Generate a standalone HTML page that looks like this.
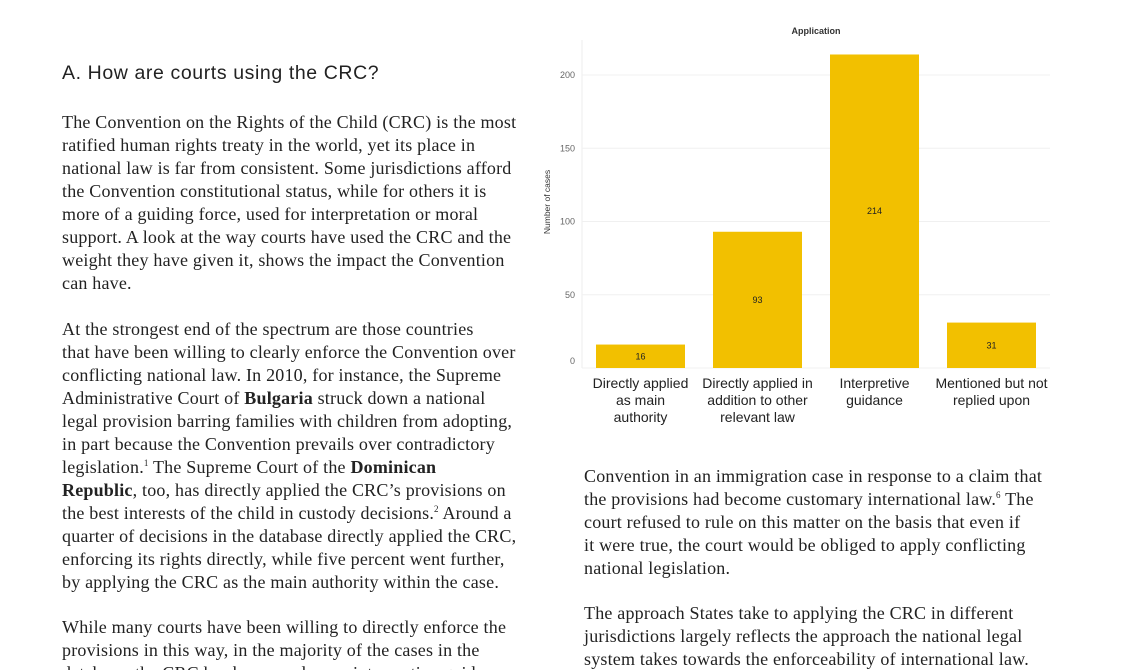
<!DOCTYPE html>
<html><head><meta charset="utf-8">
<style>
html,body{margin:0;padding:0;background:#fff;width:1130px;height:670px;overflow:hidden;position:relative}
.t{position:absolute;font-family:"Liberation Serif",serif;font-size:18px;letter-spacing:0.2px;color:#222;white-space:nowrap;line-height:22px}
.t sup{font-size:9px;line-height:0;vertical-align:baseline;position:relative;top:-7px}
h2{position:absolute;left:62px;top:62px;margin:0;font-family:"Liberation Sans",sans-serif;font-weight:normal;font-size:19.5px;color:#222;letter-spacing:0.6px}
svg text{font-family:"Liberation Sans",sans-serif}
</style></head><body>
<h2>A. How are courts using the CRC?</h2>
<div>
<div class="t" style="left:62px;top:111px">The Convention on the Rights of the Child (CRC) is the most</div>
<div class="t" style="left:62px;top:134px">ratified human rights treaty in the world, yet its place in</div>
<div class="t" style="left:62px;top:157px">national law is far from consistent. Some jurisdictions afford</div>
<div class="t" style="left:62px;top:180px">the Convention constitutional status, while for others it is</div>
<div class="t" style="left:62px;top:203px">more of a guiding force, used for interpretation or moral</div>
<div class="t" style="left:62px;top:226px">support. A look at the way courts have used the CRC and the</div>
<div class="t" style="left:62px;top:249px">weight they have given it, shows the impact the Convention</div>
<div class="t" style="left:62px;top:272px">can have.</div>
<div class="t" style="left:62px;top:318px">At the strongest end of the spectrum are those countries</div>
<div class="t" style="left:62px;top:341px">that have been willing to clearly enforce the Convention over</div>
<div class="t" style="left:62px;top:364px">conflicting national law. In 2010, for instance, the Supreme</div>
<div class="t" style="left:62px;top:387px">Administrative Court of <b>Bulgaria</b> struck down a national</div>
<div class="t" style="left:62px;top:410px">legal provision barring families with children from adopting,</div>
<div class="t" style="left:62px;top:433px">in part because the Convention prevails over contradictory</div>
<div class="t" style="left:62px;top:456px">legislation.<sup>1</sup> The Supreme Court of the <b>Dominican</b></div>
<div class="t" style="left:62px;top:479px"><b>Republic</b>, too, has directly applied the CRC’s provisions on</div>
<div class="t" style="left:62px;top:502px">the best interests of the child in custody decisions.<sup>2</sup> Around a</div>
<div class="t" style="left:62px;top:525px">quarter of decisions in the database directly applied the CRC,</div>
<div class="t" style="left:62px;top:548px">enforcing its rights directly, while five percent went further,</div>
<div class="t" style="left:62px;top:571px">by applying the CRC as the main authority within the case.</div>
<div class="t" style="left:62px;top:616px">While many courts have been willing to directly enforce the</div>
<div class="t" style="left:62px;top:639px">provisions in this way, in the majority of the cases in the</div>
<div class="t" style="left:62px;top:662px">database, the CRC has been used as an interpretive guide</div>
</div>
<div>
<div class="t" style="left:584px;top:465px">Convention in an immigration case in response to a claim that</div>
<div class="t" style="left:584px;top:488px">the provisions had become customary international law.<sup>6</sup> The</div>
<div class="t" style="left:584px;top:511px">court refused to rule on this matter on the basis that even if</div>
<div class="t" style="left:584px;top:534px">it were true, the court would be obliged to apply conflicting</div>
<div class="t" style="left:584px;top:557px">national legislation.</div>
<div class="t" style="left:584px;top:602px">The approach States take to applying the CRC in different</div>
<div class="t" style="left:584px;top:625px">jurisdictions largely reflects the approach the national legal</div>
<div class="t" style="left:584px;top:648px">system takes towards the enforceability of international law.</div>
</div>
<svg id="chart" width="1130" height="670" style="position:absolute;left:0;top:0" xmlns="http://www.w3.org/2000/svg"></svg>
<script>
const categories = [["Directly applied","as main","authority"],["Directly applied in","addition to other","relevant law"],["Interpretive","guidance"],["Mentioned but not","replied upon"]];
const values = [16, 93, 214, 31];
const tickValues = [0, 50, 100, 150, 200];
const tickLabels = ["0","50","100","150","200"];

const svg = document.getElementById('chart');
const NS = 'http://www.w3.org/2000/svg';
const x0 = 582, x1 = 1050, y0 = 368, pxPerUnit = 1.465;
const y = v => y0 - v * pxPerUnit;
const step = (x1 - x0) / categories.length;
const bw = 89;
const xc = i => x0 + step * i + step / 2;
function mk(tag, attrs, txt){const e=document.createElementNS(NS,tag);for(const k in attrs)e.setAttribute(k,attrs[k]);if(txt!==undefined)e.textContent=txt;svg.appendChild(e);return e;}

let t = mk('text',{x:816,y:34,'text-anchor':'middle','font-size':9,'font-weight':'bold',fill:'#333'},'Application');


t = mk('text',{x:0,y:0,'text-anchor':'middle','font-size':8.5,fill:'#333',transform:'translate(550,202) rotate(-90)'},'Number of cases');


let ax = mk('line',{x1:x0,x2:x0,y1:40,y2:y0,stroke:'#eee','stroke-width':1});


tickValues.forEach((v,i)=>{
  const g = mk('line',{x1:x0,x2:x1,y1:y(v),y2:y(v),stroke:'#f0f0f0','stroke-width':1});
  
  
  const lb = mk('text',{x:575,y:(v===0?y(v)-4:y(v)+3),'text-anchor':'end','font-size':9,fill:'#666'},tickLabels[i]);
  
  
});
values.forEach((v,i)=>{
  const r = mk('rect',{x:xc(i)-bw/2,y:y(v),width:bw,height:y0-y(v),fill:'#f2c000'});
  
  
  const vl = mk('text',{x:xc(i),y:y(v/2)+3,'text-anchor':'middle','font-size':9,fill:'#222'},String(v));
  
  
  categories[i].forEach((line,j)=>{
    const c = mk('text',{x:xc(i),y:388+j*17,'text-anchor':'middle','font-size':14,fill:'#222'},line);
    
    
  });
});
</script>
</body></html>
